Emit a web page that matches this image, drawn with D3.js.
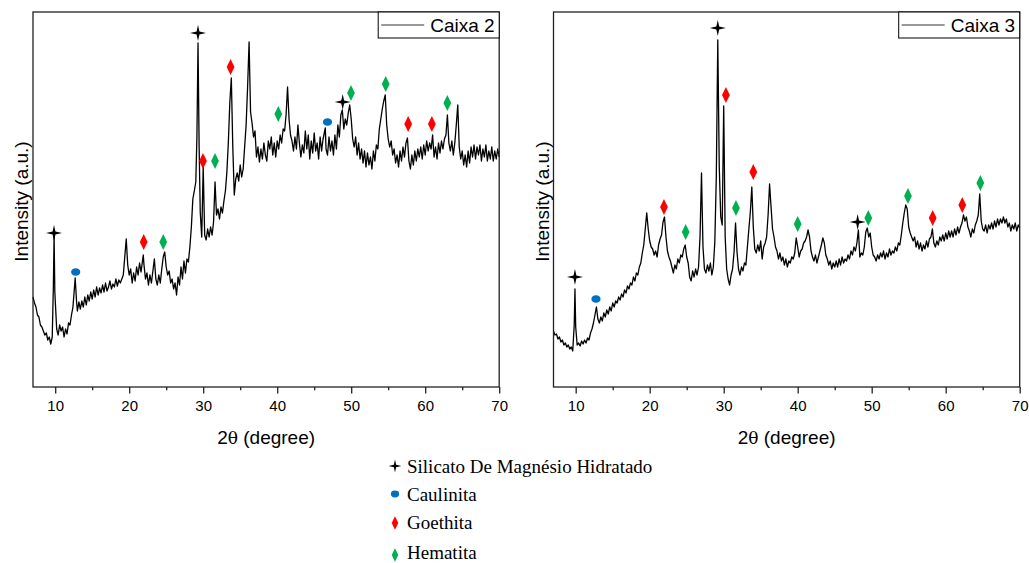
<!DOCTYPE html>
<html><head><meta charset="utf-8">
<script src="https://cdn.jsdelivr.net/npm/d3@7"></script>
<style>
html,body{margin:0;padding:0;background:#fff;}
svg{display:block;}
</style></head>
<body>
<svg id="chart" width="1029" height="563"></svg>
<script>
// ---------------- DATA ----------------
const xTicks = [10, 20, 30, 40, 50, 60, 70];
const xMinorTicks = [15, 25, 35, 45, 55, 65];
const seriesNames = ["Caixa 2", "Caixa 3"];
const phaseNames = ["Silicato De Magnésio Hidratado", "Caulinita", "Goethita", "Hematita"];

// [2theta, intensity (a.u.)]
const caixa2 = [
[7.0,90],[7.2,84],[7.4,80],[7.6,72],[7.8,70],[8.0,62],[8.2,60],[8.4,56],[8.6,52],[8.8,54],
[9.0,47],[9.2,50],[9.4,43],[9.6,50],[9.75,100],[9.85,152],[9.95,95],[10.2,58],[10.4,52],[10.6,62],
[10.8,56],[11.0,60],[11.2,50],[11.4,58],[11.6,53],[11.8,64],[12.0,62],[12.2,72],[12.4,80],[12.7,109],
[12.9,84],[13.0,76],[13.2,85],[13.4,78],[13.6,86],[13.8,80],[14.0,90],[14.2,82],[14.4,92],[14.6,86],
[14.8,95],[15.0,88],[15.2,97],[15.4,90],[15.6,100],[15.8,92],[16.0,99],[16.2,94],[16.4,102],[16.6,95],
[16.8,104],[17.0,96],[17.2,100],[17.4,106],[17.6,98],[17.8,103],[18.0,100],[18.2,108],[18.4,101],[18.6,107],
[18.8,104],[19.0,108],[19.2,112],[19.4,130],[19.6,148],[19.8,122],[20.0,112],[20.2,118],[20.4,104],[20.6,114],
[20.8,106],[21.0,120],[21.2,112],[21.4,124],[21.6,115],[21.9,132],[22.0,122],[22.2,108],[22.4,114],[22.6,102],
[22.8,112],[23.0,104],[23.2,116],[23.4,128],[23.6,108],[23.8,102],[24.0,112],[24.2,104],[24.4,118],[24.6,130],
[24.8,135],[25.0,120],[25.2,112],[25.4,116],[25.6,104],[25.8,108],[26.0,98],[26.2,104],[26.4,92],[26.6,110],
[26.8,102],[27.0,120],[27.2,108],[27.4,126],[27.6,114],[27.8,128],[28.0,125],[28.2,140],[28.4,160],[28.6,188],
[28.8,196],[29.0,205],[29.15,250],[29.3,344],[29.45,240],[29.6,175],[29.8,150],[30.0,220],[30.2,152],[30.4,147],
[30.6,158],[30.8,150],[31.0,160],[31.2,152],[31.4,165],[31.6,205],[31.8,172],[32.0,178],[32.2,168],[32.4,180],
[32.6,174],[32.8,186],[33.0,196],[33.2,215],[33.4,245],[33.6,285],[33.8,309],[34.0,240],[34.2,192],[34.4,208],
[34.6,214],[34.8,206],[35.0,222],[35.2,210],[35.4,218],[35.6,240],[35.8,262],[36.0,300],[36.2,345],[36.4,275],
[36.6,264],[36.8,250],[37.0,256],[37.2,230],[37.4,240],[37.6,225],[37.8,238],[38.0,228],[38.2,244],[38.4,232],
[38.6,226],[38.8,246],[39.0,238],[39.2,250],[39.4,232],[39.6,244],[39.8,230],[40.0,246],[40.2,238],[40.4,252],
[40.6,244],[40.8,258],[41.0,256],[41.2,272],[41.4,300],[41.6,268],[41.8,252],[42.0,246],[42.2,236],[42.4,250],
[42.6,238],[42.8,262],[43.0,244],[43.2,230],[43.4,242],[43.6,234],[43.8,256],[44.0,238],[44.2,252],[44.4,228],
[44.6,246],[44.8,234],[45.0,254],[45.2,236],[45.4,244],[45.6,228],[45.8,250],[46.0,236],[46.2,248],[46.5,259],
[46.6,238],[46.8,232],[47.0,250],[47.2,236],[47.4,246],[47.6,232],[47.8,252],[48.0,238],[48.2,262],[48.4,250],
[48.6,272],[48.8,277],[49.0,258],[49.2,268],[49.4,262],[49.6,274],[49.8,282],[50.0,268],[50.2,248],[50.4,240],
[50.6,250],[50.8,232],[51.0,244],[51.2,228],[51.4,238],[51.6,224],[51.8,236],[52.0,220],[52.2,234],[52.4,222],
[52.6,230],[52.8,218],[53.0,236],[53.2,226],[53.4,242],[53.6,238],[53.8,258],[54.0,268],[54.2,278],[54.4,286],
[54.6,292],[54.8,262],[55.0,248],[55.2,240],[55.4,246],[55.6,232],[55.8,238],[56.0,224],[56.2,232],[56.4,220],
[56.6,236],[56.8,226],[57.0,240],[57.2,230],[57.4,244],[57.6,249],[57.8,226],[58.0,218],[58.2,232],[58.4,222],
[58.6,236],[58.8,226],[59.0,238],[59.2,230],[59.4,240],[59.6,228],[59.8,242],[60.0,232],[60.2,246],[60.4,236],
[60.6,244],[60.8,238],[61.0,252],[61.2,230],[61.4,240],[61.6,228],[61.8,244],[62.0,234],[62.2,246],[62.4,238],
[62.6,248],[62.8,252],[63.0,272],[63.2,244],[63.4,236],[63.6,246],[63.8,232],[64.0,244],[64.2,262],[64.4,282],
[64.6,240],[64.8,228],[65.0,236],[65.2,222],[65.4,232],[65.6,220],[65.8,236],[66.0,224],[66.2,240],[66.4,230],
[66.6,242],[66.8,228],[67.0,240],[67.2,232],[67.4,242],[67.6,226],[67.8,238],[68.0,230],[68.2,242],[68.4,226],
[68.6,236],[68.8,228],[69.0,240],[69.2,226],[69.4,236],[69.6,228],[69.8,238],[70.0,230]
];

const caixa3 = [
[7.0,56],[7.2,52],[7.4,53],[7.6,48],[7.8,50],[8.0,45],[8.2,47],[8.4,42],[8.6,44],[8.8,40],
[9.0,42],[9.2,38],[9.4,40],[9.6,36],[9.8,62],[9.9,98],[10.0,60],[10.2,42],[10.4,44],[10.6,41],
[10.8,46],[11.0,43],[11.2,47],[11.4,44],[11.6,49],[11.8,47],[12.0,54],[12.2,58],[12.4,64],[12.6,72],
[12.8,80],[13.0,68],[13.2,64],[13.4,70],[13.6,66],[13.8,74],[14.0,70],[14.2,77],[14.4,73],[14.6,80],
[14.8,76],[15.0,84],[15.2,80],[15.4,86],[15.6,84],[15.8,90],[16.0,87],[16.2,93],[16.4,90],[16.6,97],
[16.8,94],[17.0,101],[17.2,98],[17.4,104],[17.6,102],[17.8,110],[18.0,106],[18.2,114],[18.4,112],[18.6,120],
[18.8,124],[19.0,134],[19.2,142],[19.4,158],[19.6,174],[19.8,158],[20.0,146],[20.2,140],[20.4,138],[20.6,132],
[20.8,136],[21.0,130],[21.2,142],[21.4,148],[21.6,152],[21.8,165],[22.0,170],[22.2,150],[22.4,136],[22.6,130],
[22.8,126],[23.0,120],[23.2,114],[23.4,122],[23.6,118],[23.8,128],[24.0,124],[24.2,132],[24.4,130],[24.6,138],
[24.8,142],[25.0,130],[25.2,124],[25.4,110],[25.6,106],[25.8,116],[26.0,110],[26.2,118],[26.4,112],[26.6,120],
[26.8,150],[27.0,214],[27.2,140],[27.4,118],[27.6,114],[27.8,122],[28.0,116],[28.2,124],[28.4,112],[28.6,120],
[28.8,145],[29.0,210],[29.2,347],[29.4,220],[29.6,170],[29.8,162],[30.0,281],[30.2,150],[30.4,118],[30.6,108],
[30.8,102],[31.0,112],[31.2,118],[31.4,135],[31.6,164],[31.8,135],[32.0,118],[32.2,112],[32.4,120],[32.6,116],
[32.8,124],[33.0,122],[33.2,140],[33.4,158],[33.6,175],[33.8,200],[34.0,160],[34.2,138],[34.4,134],[34.6,142],
[34.8,136],[35.0,146],[35.2,128],[35.4,140],[35.6,144],[35.8,150],[36.0,172],[36.2,203],[36.4,180],[36.6,158],
[36.8,150],[37.0,140],[37.2,136],[37.4,128],[37.6,134],[37.8,126],[38.0,130],[38.2,122],[38.4,128],[38.6,120],
[38.8,126],[39.0,124],[39.2,130],[39.4,128],[39.6,134],[39.8,149],[40.0,140],[40.2,130],[40.4,136],[40.6,138],
[40.8,144],[41.0,146],[41.2,150],[41.4,157],[41.6,150],[41.8,136],[42.0,130],[42.2,126],[42.4,132],[42.6,124],
[42.8,130],[43.0,136],[43.2,142],[43.4,149],[43.6,144],[43.8,132],[44.0,128],[44.2,122],[44.4,126],[44.6,118],
[44.8,124],[45.0,120],[45.2,126],[45.4,120],[45.6,128],[45.8,122],[46.0,130],[46.2,124],[46.4,128],[46.6,126],
[46.8,132],[47.0,128],[47.2,136],[47.4,132],[47.6,140],[47.8,136],[48.0,144],[48.2,157],[48.4,130],[48.6,134],
[48.8,132],[49.0,140],[49.2,155],[49.4,159],[49.6,150],[49.8,154],[50.0,140],[50.2,132],[50.4,130],[50.6,126],
[50.8,132],[51.0,128],[51.2,134],[51.4,130],[51.6,136],[51.8,128],[52.0,134],[52.2,130],[52.4,138],[52.6,132],
[52.8,136],[53.0,134],[53.2,140],[53.4,136],[53.6,144],[53.8,142],[54.0,152],[54.2,164],[54.4,174],[54.6,182],
[54.8,178],[55.0,160],[55.2,154],[55.4,150],[55.6,146],[55.8,150],[56.0,140],[56.2,146],[56.4,138],[56.6,144],
[56.8,136],[57.0,142],[57.2,138],[57.4,146],[57.6,140],[57.8,148],[58.0,150],[58.2,158],[58.4,144],[58.6,140],
[58.8,146],[59.0,142],[59.2,150],[59.4,146],[59.6,152],[59.8,146],[60.0,154],[60.2,148],[60.4,156],[60.6,150],
[60.8,156],[61.0,150],[61.2,158],[61.4,152],[61.6,160],[61.8,154],[62.0,160],[62.2,164],[62.4,172],[62.6,166],
[62.8,170],[63.0,160],[63.2,156],[63.4,150],[63.6,158],[63.8,154],[64.0,162],[64.2,166],[64.4,172],[64.6,193],
[64.8,166],[65.0,158],[65.2,156],[65.4,162],[65.6,154],[65.8,162],[66.0,158],[66.2,164],[66.4,158],[66.6,166],
[66.8,160],[67.0,168],[67.2,162],[67.4,168],[67.6,164],[67.8,170],[68.0,164],[68.2,168],[68.4,160],[68.6,164],
[68.8,156],[69.0,162],[69.2,158],[69.4,164],[69.6,156],[69.8,162],[70.0,159]
];

// phase markers [2theta, intensity level]
const caixa2Silicato = [[9.84,154],[29.3,354],[48.85,285]];
const caixa2Caulinita = [[12.77,115],[46.8,265]];
const caixa2Goethita = [[21.96,145],[29.97,226],[33.7,320],[57.7,263],[60.9,263]];
const caixa2Hematita = [[24.6,145],[31.6,226],[40.15,273],[49.97,294],[54.66,303],[62.99,284]];
const caixa3Silicato = [[9.9,110],[29.2,359],[48.1,165]];
const caixa3Caulinita = [[12.74,88]];
const caixa3Goethita = [[21.93,180],[30.3,292],[34.0,215],[58.24,169],[62.24,182]];
const caixa3Hematita = [[24.86,155],[31.66,179],[40.0,163],[49.54,169],[54.9,191],[64.68,204]];

// ---------------- DRAWING ----------------
const svg = d3.select("#chart");
const COL = {star:"#000000", blue:"#0070C0", red:"#FF0000", green:"#00B050"};
const SANS = "Liberation Sans, Arial, sans-serif";

function starPath(R, r){
  const pts=[];
  for(let i=0;i<8;i++){
    const a=i*Math.PI/4-Math.PI/2, rad=(i%2===0)?R:r;
    pts.push([Math.cos(a)*rad, Math.sin(a)*rad]);
  }
  return "M"+pts.map(p=>p[0].toFixed(2)+","+p[1].toFixed(2)).join("L")+"Z";
}
function diamondPath(w,h){ return `M0,${-h}L${w},0L0,${h}L${-w},0Z`; }

function drawMarker(g, kind, x, y, s){
  if(kind===0){
    g.append("path").attr("d",starPath(8*s,2*s)).attr("transform",`translate(${x},${y})`).attr("fill",COL.star);
  } else if(kind===1){
    g.append("ellipse").attr("cx",x).attr("cy",y).attr("rx",4.6*s).attr("ry",3.8*s).attr("fill",COL.blue);
  } else {
    g.append("path").attr("d",diamondPath(3.9*s,8*s)).attr("transform",`translate(${x},${y})`)
      .attr("fill", kind===2?COL.red:COL.green);
  }
}

const panels = [
  {name: seriesNames[0], data: caixa2, left: 33, right: 499.2, markers:[caixa2Silicato,caixa2Caulinita,caixa2Goethita,caixa2Hematita], ylabX: 28},
  {name: seriesNames[1], data: caixa3, left: 553.5, right: 1019.7, markers:[caixa3Silicato,caixa3Caulinita,caixa3Goethita,caixa3Hematita], ylabX: 548.5}
];
const plotTop = 12, plotBottom = 387;

panels.forEach(p=>{
  const x = d3.scaleLinear().domain([7,70]).range([p.left,p.right]);
  const y = d3.scaleLinear().domain([0,375]).range([plotBottom,plotTop]);
  const g = svg.append("g");

  // data line
  const line = d3.line().x(d=>x(d[0])).y(d=>y(d[1]));
  g.append("path").datum(p.data).attr("d",line).attr("fill","none")
    .attr("stroke","#000").attr("stroke-width",1.3).attr("stroke-linejoin","round");

  // frame
  g.append("rect").attr("x",p.left).attr("y",plotTop).attr("width",p.right-p.left).attr("height",plotBottom-plotTop)
    .attr("fill","none").attr("stroke","#222").attr("stroke-width",1.3);

  // x axis
  const ax = g.append("g").attr("transform",`translate(0,${plotBottom})`)
    .call(d3.axisBottom(x).tickValues(xTicks).tickSize(6.5).tickPadding(7).tickFormat(d3.format("d")));
  ax.select(".domain").remove();
  ax.selectAll("line").attr("stroke","#222").attr("stroke-width",1.3);
  ax.selectAll("text").attr("font-family",SANS).attr("font-size",15).attr("fill","#000");
  const axm = g.append("g").attr("transform",`translate(0,${plotBottom})`)
    .call(d3.axisBottom(x).tickValues(xMinorTicks).tickSize(3.3).tickFormat(""));
  axm.select(".domain").remove();
  axm.selectAll("line").attr("stroke","#222").attr("stroke-width",1.3);

  // axis titles
  const xt = g.append("text").attr("x",(p.left+p.right)/2).attr("y",444).attr("text-anchor","middle")
    .attr("font-family",SANS).attr("font-size",19).attr("fill","#000");
  xt.append("tspan").text("2");
  xt.append("tspan").attr("font-family","DejaVu Serif, serif").attr("font-size",17).text("θ");
  xt.append("tspan").text(" (degree)");
  g.append("text").attr("transform",`translate(${p.ylabX},${(plotTop+plotBottom)/2 + 2}) rotate(-90)`)
    .attr("text-anchor","middle")
    .attr("font-family",SANS).attr("font-size",19).attr("fill","#000")
    .text("Intensity (a.u.)");

  // legend box
  const lw = 121, lh = 26;
  const lx = p.right - lw;
  g.append("rect").attr("x",lx).attr("y",plotTop).attr("width",lw).attr("height",lh)
    .attr("fill","#fff").attr("stroke","#000").attr("stroke-width",1);
  g.append("line").attr("x1",lx+3).attr("x2",lx+46).attr("y1",plotTop+13).attr("y2",plotTop+13)
    .attr("stroke","#333").attr("stroke-width",1);
  g.append("text").attr("x",lx+52).attr("y",plotTop+20).attr("font-family",SANS)
    .attr("font-size",19).attr("fill","#000").text(p.name);

  // phase markers
  p.markers.forEach((arr,k)=>{
    arr.forEach(d=>drawMarker(g,k,x(d[0]),y(d[1]),1));
  });
});

// bottom legend
const legY = [466, 494, 523, 555];
const legBase = [473, 501, 529, 559];
const lg = svg.append("g");
phaseNames.forEach((name,k)=>{
  drawMarker(lg,k,395,legY[k], k===0?0.8:(k===1?0.9:0.85));
  lg.append("text").attr("x",407).attr("y",legBase[k]).attr("font-family","Liberation Serif, Times New Roman, serif")
    .attr("font-size",19).attr("fill","#000").text(name);
});
</script>
</body></html>
